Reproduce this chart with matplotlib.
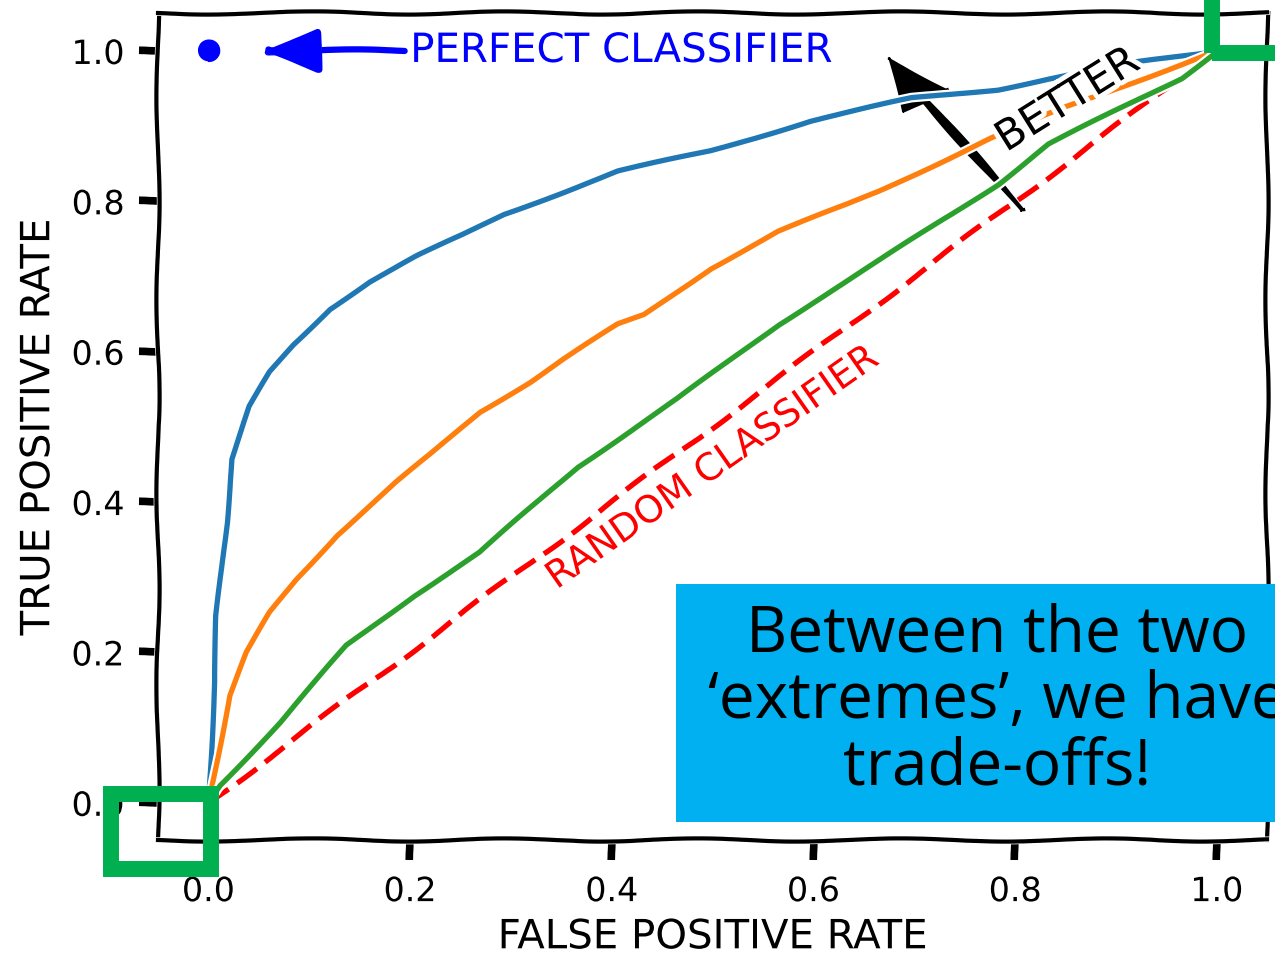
import matplotlib
matplotlib.use("Agg")
import matplotlib.pyplot as plt
import matplotlib.patheffects as pe
from matplotlib.patches import Rectangle

# ROC curves: false positive rate vs. true positive rate
fpr_good = [0.0, 0.001, 0.006, 0.008, 0.015, 0.018, 0.021, 0.023, 0.041, 0.061, 0.084,
            0.120, 0.160, 0.207, 0.253, 0.293, 0.353, 0.406, 0.498, 0.597, 0.697,
            0.783, 0.833, 0.912, 1.0]
tpr_good = [0.0, 0.036, 0.160, 0.249, 0.337, 0.373, 0.427, 0.457, 0.527, 0.573, 0.609,
            0.657, 0.693, 0.727, 0.756, 0.783, 0.813, 0.840, 0.867, 0.907, 0.937,
            0.949, 0.963, 0.983, 1.0]

fpr_fair = [0.0, 0.005, 0.021, 0.038, 0.061, 0.087, 0.127, 0.187, 0.220, 0.269, 0.319,
            0.353, 0.406, 0.432, 0.498, 0.565, 0.634, 0.664, 0.776, 0.850, 0.920, 1.0]
tpr_fair = [0.0, 0.036, 0.143, 0.200, 0.253, 0.297, 0.356, 0.427, 0.463, 0.520, 0.560,
            0.591, 0.636, 0.649, 0.711, 0.760, 0.796, 0.813, 0.884, 0.925, 0.960, 1.0]

fpr_weak = [0.0, 0.011, 0.071, 0.137, 0.204, 0.269, 0.349, 0.366, 0.465, 0.565, 0.601,
            0.664, 0.783, 0.833, 0.965, 1.0]
tpr_weak = [0.0, 0.023, 0.107, 0.209, 0.276, 0.333, 0.427, 0.447, 0.537, 0.636, 0.667,
            0.720, 0.823, 0.876, 0.964, 1.0]

fpr_random = [0.0, 1.0]
tpr_random = [0.0, 1.0]

perfect_point = (0.0, 1.0)
tick_values = [0.0, 0.2, 0.4, 0.6, 0.8, 1.0]
tick_labels = ["0.0", "0.2", "0.4", "0.6", "0.8", "1.0"]

plt.xkcd(scale=1.6, length=220, randomness=2)
plt.rcParams["font.family"] = ["DejaVu Sans"]
halo = [pe.withStroke(linewidth=7, foreground="w")]

fig = plt.figure(figsize=(12.75, 9.55), dpi=100)
ax = fig.add_axes([0.124, 0.120, 0.870, 0.866])

for side in ax.spines.values():
    side.set_linewidth(3)

# "better" direction arrow sits beneath the curves
ax.arrow(0.808, 0.787, -0.134, 0.203, width=0.0055, head_width=0.055,
         head_length=0.068, length_includes_head=True, fc="black", ec="black",
         lw=1.5, zorder=1)

curve_style = dict(lw=3.8, zorder=2, path_effects=halo)
ax.plot(fpr_random, tpr_random, color="red", linestyle=(0, (4.6, 2.0)), **curve_style)
for fx, ty, col in [(fpr_good, tpr_good, "#1f77b4"),
                    (fpr_fair, tpr_fair, "#ff7f0e"),
                    (fpr_weak, tpr_weak, "#2ca02c")]:
    ln, = ax.plot(fx, ty, color=col, **curve_style)
    ln.set_sketch_params(0.9, 260, 2)

ax.plot([perfect_point[0]], [perfect_point[1]], "o", color="blue", markersize=15, zorder=3)
ax.annotate("PERFECT CLASSIFIER", xy=(0.05, 1.0), xytext=(0.2, 1.0),
            ha="left", va="center", color="blue", fontsize=29,
            arrowprops=dict(arrowstyle="-|>,head_length=1.2,head_width=0.45",
                            color="blue", lw=4.5, mutation_scale=30,
                            shrinkA=2, shrinkB=0))

ax.text(0.50, 0.445, "RANDOM CLASSIFIER", color="red", fontsize=27,
        rotation=35, ha="center", va="center", rotation_mode="anchor", zorder=4,
        path_effects=halo)
ax.text(0.852, 0.935, "BETTER", color="black", fontsize=30,
        rotation=32, ha="center", va="center", rotation_mode="anchor", zorder=4,
        path_effects=halo)

ax.set_xlim(-0.05, 1.05)
ax.set_ylim(-0.05, 1.05)
ax.set_xticks(tick_values)
ax.set_xticklabels(tick_labels)
ax.set_yticks(tick_values)
ax.set_yticklabels(tick_labels)
ax.tick_params(axis="both", which="major", labelsize=24, length=14, width=5.5,
               direction="out")
ax.tick_params(axis="x", pad=11)
ax.tick_params(axis="y", pad=10)

ax.set_xlabel("FALSE POSITIVE RATE", fontsize=29)
ax.set_ylabel("TRUE POSITIVE RATE", fontsize=29)
ax.xaxis.set_label_coords(0.5, -0.093)
ax.yaxis.set_label_coords(-0.090, 0.5)

# green highlight squares at the two extreme operating points
for corner in [(-0.0964, -0.088), (0.995, 0.997)]:
    sq = Rectangle(corner, 0.0984, 0.100, fill=False, edgecolor="#00B050",
                   lw=11.5, clip_on=False, zorder=10, joinstyle="miter")
    sq.set_sketch_params(None)
    sq.set_path_effects([])
    ax.add_patch(sq)

# callout box
box = Rectangle((0.530, 0.139), 0.50, 0.250, transform=fig.transFigure,
                facecolor="#00B0F0", edgecolor="none", zorder=20)
box.set_sketch_params(None)
box.set_path_effects([])
fig.add_artist(box)

msg = fig.text(0.782, 0.266, "Between the two\n\u2018extremes\u2019, we have\ntrade-offs!",
               ha="center", va="center", fontsize=46, family="Open Sans",
               color="black", linespacing=1.05, zorder=21)
msg.set_path_effects([])

fig.savefig("out.png", dpi=100)
